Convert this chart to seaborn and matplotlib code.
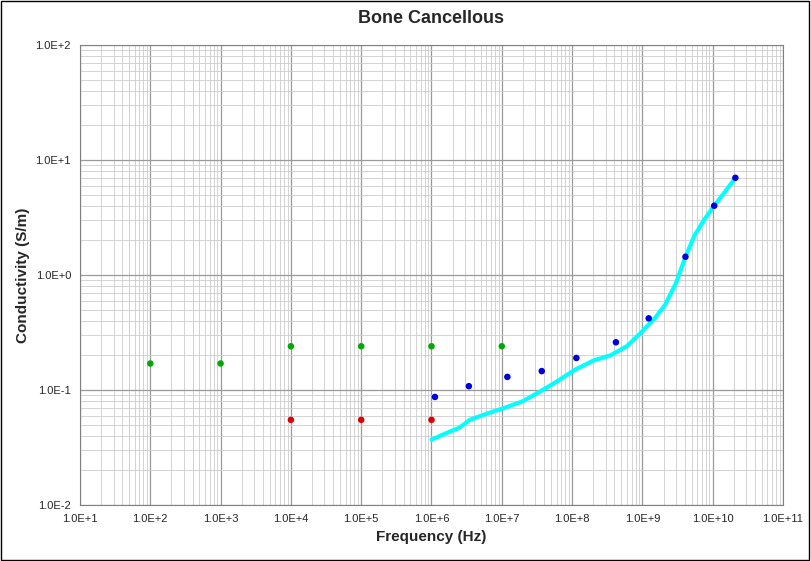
import numpy as np
import matplotlib
matplotlib.use("Agg")
import matplotlib.pyplot as plt
import seaborn as sns
from matplotlib.ticker import LogLocator, FixedFormatter, FixedLocator

# measured points
green_f = [1e2, 1e3, 1e4, 1e5, 1e6, 1e7]
green_s = [0.17, 0.17, 0.24, 0.24, 0.24, 0.24]
red_f = [1e4, 1e5, 1e6]
red_s = [0.055, 0.055, 0.055]
blue_f = [1.12e6, 3.4e6, 1.2e7, 3.7e7, 1.15e8, 4.2e8, 1.23e9, 4.1e9, 1.05e10, 2.1e10]
blue_s = [0.087, 0.108, 0.13, 0.146, 0.19, 0.26, 0.42, 1.44, 4.0, 7.0]

# model curve
curve_f = [1.0e6, 1.6e6, 2.5e6, 3.5e6, 6e6, 1.1e7, 2e7, 3.5e7, 6e7, 1.1e8, 2e8,
           3.5e8, 6e8, 9.3e8, 1.5e9, 2.1e9, 3.0e9, 4.1e9, 5.5e9, 7.5e9, 1.05e10, 1.5e10, 2.1e10]
curve_s = [0.037, 0.042, 0.047, 0.055, 0.062, 0.070, 0.080, 0.097, 0.118, 0.15, 0.18,
           0.20, 0.24, 0.31, 0.42, 0.55, 0.85, 1.44, 2.2, 3.0, 4.0, 5.3, 7.0]

sns.set_style("white")
plt.rcParams['font.family'] = ['Liberation Sans', 'DejaVu Sans']

fig = plt.figure(figsize=(8.11, 5.61), dpi=100)
ax = fig.add_axes([80/811, 1-505/561, 703/811, 460/561])
fig.patches.append(plt.Rectangle((0.001, 0.001), 0.997, 0.997, transform=fig.transFigure,
                                 fill=False, edgecolor="black", linewidth=1))

sns.lineplot(x=curve_f, y=curve_s, color="cyan", linewidth=3, ax=ax, sort=False, zorder=2)
sns.scatterplot(x=green_f, y=green_s, color="#00aa00", s=22, edgecolor="none", ax=ax, zorder=3)
sns.scatterplot(x=red_f, y=red_s, color="#dd0000", s=22, edgecolor="none", ax=ax, zorder=3)
sns.scatterplot(x=blue_f, y=blue_s, color="#0000dd", s=22, edgecolor="none", ax=ax, zorder=3)

ax.set_xscale("log")
ax.set_yscale("log")
ax.set_xlim(1e1, 1e11)
ax.set_ylim(1e-2, 1e2)

xt = [10.0**k for k in range(1, 12)]
yt = [10.0**k for k in range(-2, 3)]
ax.xaxis.set_major_locator(FixedLocator(xt))
ax.xaxis.set_major_formatter(FixedFormatter([f"1.0E+{k}" for k in range(1, 12)]))
ax.yaxis.set_major_locator(FixedLocator(yt))
ax.yaxis.set_major_formatter(FixedFormatter(["1.0E-2", "1.0E-1", "1.0E+0", "1.0E+1", "1.0E+2"]))
ax.xaxis.set_minor_locator(LogLocator(base=10, subs=np.arange(2, 10), numticks=20))
ax.yaxis.set_minor_locator(LogLocator(base=10, subs=np.arange(2, 10), numticks=20))
ax.xaxis.set_minor_formatter(plt.NullFormatter())
ax.yaxis.set_minor_formatter(plt.NullFormatter())
ax.grid(True, which="major", color="#999999", linewidth=0.9)
ax.grid(True, which="minor", color="#cccccc", linewidth=0.6)
ax.set_axisbelow(True)
ax.tick_params(labelsize=8, length=3)
for s in ax.spines.values():
    s.set_color("#808080")

ax.set_xlabel("Frequency (Hz)", fontsize=11, fontweight="bold")
ax.set_ylabel("Conductivity (S/m)", fontsize=11, fontweight="bold")
ax.set_title("Bone Cancellous", fontsize=13, fontweight="bold", pad=16)

fig.savefig("out.png", dpi=100)
